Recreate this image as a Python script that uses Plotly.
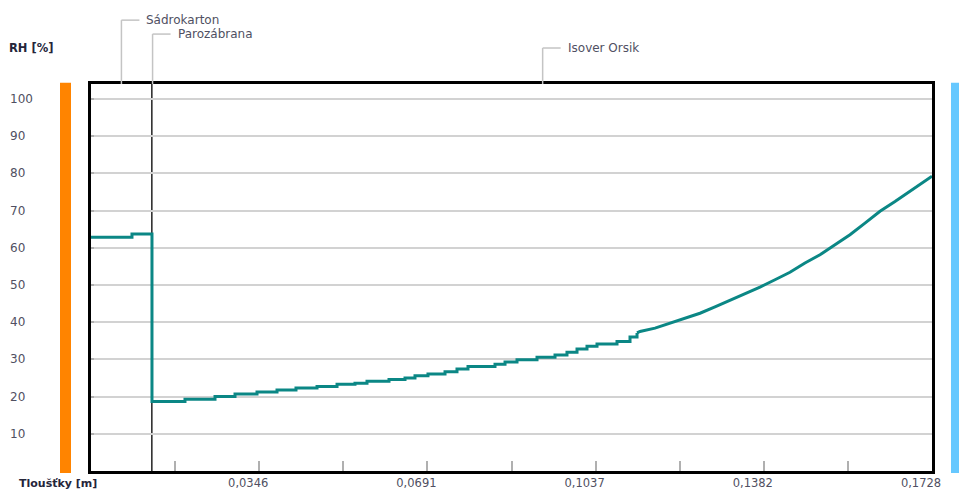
import plotly.graph_objects as go

# Wall build-up (inside -> outside), thickness in metres
layer_names = ["Sádrokarton", "Parozábrana", "Isover Orsik"]
layer_thickness = [0.0125, 0.0003, 0.16]
label_levels = [1.165, 1.129, 1.093]  # paper y of each layer caption

# Relative humidity profile - stepped section (plasterboard + inner insulation)
t_step = [0.0, 0.00842, 0.01253, 0.01931, 0.02548, 0.02959, 0.03411, 0.03822,
          0.04212, 0.04644, 0.05055, 0.05424, 0.05671, 0.06123, 0.06452,
          0.06657, 0.06924, 0.07274, 0.07520, 0.07746, 0.08301, 0.08507,
          0.08753, 0.09164, 0.09534, 0.09780, 0.09986, 0.10191, 0.10397,
          0.10808, 0.11075, 0.11219]
rh_step = [62.8, 63.7, 18.7, 19.3, 20.0, 20.7, 21.2, 21.8, 22.3, 22.7, 23.3,
           23.6, 24.1, 24.6, 25.0, 25.6, 26.1, 26.7, 27.4, 28.1, 28.7, 29.3,
           29.9, 30.6, 31.2, 31.9, 32.8, 33.5, 34.1, 34.8, 36.0, 37.1]

# Relative humidity profile - outer part of the insulation
t_outer = [0.11219, 0.11280, 0.11589, 0.11897, 0.12205, 0.12513, 0.12821,
           0.13130, 0.13438, 0.13746, 0.14054, 0.14362, 0.14670, 0.14979,
           0.15287, 0.15595, 0.15903, 0.16212, 0.16520, 0.16828, 0.17074,
           0.1728]
rh_outer = [37.1, 37.5, 38.4, 39.8, 41.1, 42.4, 44.1, 45.8, 47.5, 49.4, 51.4,
            53.4, 55.9, 58.1, 60.8, 63.5, 66.6, 69.8, 72.4, 75.1, 77.4, 79.2]

total = sum(layer_thickness)
x_ticks = [round(total * i / 10, 5) for i in range(1, 11)]
x_ticktext = [("%.4f" % v).replace(".", ",") if i % 2 == 1 else ""
              for i, v in enumerate(x_ticks)]
y_ticks = [10, 20, 30, 40, 50, 60, 70, 80, 90, 100]

FONT = "DejaVu Sans, Verdana, sans-serif"
TEAL = "#0b8785"
LABEL = "#505062"
TITLE = "#25253a"

fig = go.Figure()
fig.add_trace(go.Scatter(x=t_step, y=rh_step, mode="lines",
                         line=dict(color=TEAL, width=3, shape="hv"),
                         showlegend=False, hoverinfo="skip"))
fig.add_trace(go.Scatter(x=t_outer, y=rh_outer, mode="lines",
                         line=dict(color=TEAL, width=3),
                         showlegend=False, hoverinfo="skip"))

shapes = []
# boundary between plasterboard and the vapour barrier
shapes.append(dict(type="line", xref="x", yref="paper",
                   x0=layer_thickness[0], x1=layer_thickness[0],
                   y0=0, y1=1, line=dict(color="#222", width=1.5),
                   layer="below"))

# elbow leaders to the layer captions
annotations = []
start = 0.0
for name, th, lvl in zip(layer_names, layer_thickness, label_levels):
    c = start + th / 2
    start += th
    shapes.append(dict(type="line", xref="x", yref="paper", xsizemode="pixel",
                       xanchor=c, x0=0, x1=0, y0=1, y1=lvl,
                       line=dict(color="#c4c4c4", width=1.5)))
    shapes.append(dict(type="line", xref="x", yref="paper", xsizemode="pixel",
                       xanchor=c, x0=0, x1=18, y0=lvl, y1=lvl,
                       line=dict(color="#c4c4c4", width=1.5)))
    annotations.append(dict(text=name, x=c, xref="x", y=lvl, yref="paper",
                            xanchor="left", yanchor="middle", xshift=23,
                            showarrow=False,
                            font=dict(family=FONT, size=12, color=LABEL)))

# interior / exterior side bars
shapes.append(dict(type="rect", xref="paper", yref="paper", xsizemode="pixel",
                   xanchor=0, x0=-31, x1=-20, y0=-0.005, y1=1.003,
                   fillcolor="#ff8400", line=dict(width=0)))
shapes.append(dict(type="rect", xref="paper", yref="paper", xsizemode="pixel",
                   xanchor=1, x0=19, x1=30, y0=-0.005, y1=1.003,
                   fillcolor="#66c8ff", line=dict(width=0)))

# y tick labels, left aligned
for v in y_ticks:
    annotations.append(dict(text=str(v), x=0, xref="paper", xshift=-83,
                            y=v, yref="y", xanchor="left", yanchor="middle",
                            showarrow=False,
                            font=dict(family=FONT, size=12, color=LABEL)))

annotations.append(dict(text="<b>RH [%]</b>", x=0, xref="paper", xshift=-84,
                        y=1.093, yref="paper", xanchor="left",
                        yanchor="middle", showarrow=False,
                        font=dict(family=FONT, size=11.5, color=TITLE)))
annotations.append(dict(text="<b>Tloušťky [m]</b>", x=0, xref="paper",
                        xshift=-74, y=0, yref="paper", yshift=-12,
                        xanchor="left", yanchor="middle", showarrow=False,
                        font=dict(family=FONT, size=11, color=TITLE)))

fig.update_layout(
    width=959, height=491,
    margin=dict(l=91, r=27, t=84, b=20),
    paper_bgcolor="white", plot_bgcolor="white",
    shapes=shapes, annotations=annotations,
    xaxis=dict(range=[0, total], tickvals=x_ticks, ticktext=x_ticktext,
               automargin=False,
               ticks="inside", ticklen=10, tickwidth=1.5, tickcolor="#b0b0b0",
               ticklabelshift=-11, ticklabelstandoff=-1,
               tickfont=dict(family=FONT, size=11.5, color=LABEL),
               showgrid=False, zeroline=False,
               showline=True, linecolor="black", linewidth=2.5, mirror=True),
    yaxis=dict(range=[0, 104], tickvals=y_ticks, showticklabels=False,
               automargin=False,
               ticks="inside", ticklen=3, tickwidth=1.5, tickcolor="#b0b0b0",
               showgrid=True, gridcolor="#d2d2d2", gridwidth=1.5,
               zeroline=False,
               showline=True, linecolor="black", linewidth=2.5, mirror=True),
)

fig.write_html("out.html")
